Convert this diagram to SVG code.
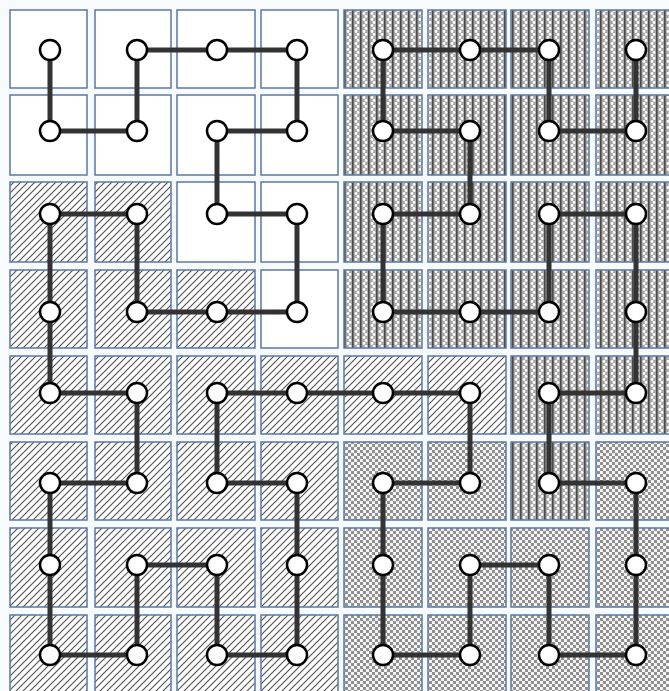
<svg xmlns="http://www.w3.org/2000/svg" width="669" height="691" viewBox="0 0 669 691">
<style>
.cell{stroke:#5a78a6;stroke-width:1.5}
.w{fill:#ffffff}
.d{fill:url(#diag)}
.c{fill:url(#check)}
.x{fill:url(#dense)}
.e{stroke:#333333;stroke-width:5;stroke-linecap:square}
.n{fill:#ffffff;stroke:#000000;stroke-width:2.5}
</style>
<defs>
<pattern id="diag" patternUnits="userSpaceOnUse" width="7" height="7">
<rect width="7" height="7" fill="#ffffff"/>
<path d="M-1,8 L8,-1 M-2,2 L2,-2 M5,9 L9,5" stroke="#505050" stroke-width="1.1"/>
</pattern>
<pattern id="check" patternUnits="userSpaceOnUse" width="6" height="6">
<rect width="6" height="6" fill="#f4f4f4"/>
<rect x="0" y="0" width="3" height="3" fill="#909090"/>
<rect x="3" y="3" width="3" height="3" fill="#909090"/>
</pattern>
<pattern id="dense" patternUnits="userSpaceOnUse" width="8" height="6">
<rect width="8" height="6" fill="#a6a6a6"/>
<rect x="0" y="0" width="1.6" height="6" fill="#4a4a4a"/>
<circle cx="4" cy="1.5" r="1.4" fill="#ffffff"/>
<circle cx="6" cy="4.5" r="1.4" fill="#ffffff"/>
</pattern>
</defs>
<rect width="669" height="691" fill="#f8fbfe"/>
<g id="cells">
<rect class="cell w" x="10" y="10" width="77" height="78"/>
<rect class="cell w" x="95" y="10" width="76" height="78"/>
<rect class="cell w" x="177" y="10" width="78" height="78"/>
<rect class="cell w" x="261" y="10" width="77" height="78"/>
<rect class="cell x" x="344" y="10" width="78" height="78"/>
<rect class="cell x" x="428" y="10" width="78" height="78"/>
<rect class="cell x" x="511" y="10" width="78" height="78"/>
<rect class="cell x" x="596" y="10" width="78" height="78"/>

<rect class="cell w" x="10" y="95" width="77" height="80"/>
<rect class="cell w" x="95" y="95" width="76" height="80"/>
<rect class="cell w" x="177" y="95" width="78" height="80"/>
<rect class="cell w" x="261" y="95" width="77" height="80"/>
<rect class="cell x" x="344" y="95" width="78" height="80"/>
<rect class="cell x" x="428" y="95" width="78" height="80"/>
<rect class="cell x" x="511" y="95" width="78" height="80"/>
<rect class="cell x" x="596" y="95" width="78" height="80"/>

<rect class="cell d" x="10" y="182" width="77" height="80"/>
<rect class="cell d" x="95" y="182" width="76" height="80"/>
<rect class="cell w" x="177" y="182" width="78" height="80"/>
<rect class="cell w" x="261" y="182" width="77" height="80"/>
<rect class="cell x" x="344" y="182" width="78" height="80"/>
<rect class="cell x" x="428" y="182" width="78" height="80"/>
<rect class="cell x" x="511" y="182" width="78" height="80"/>
<rect class="cell x" x="596" y="182" width="78" height="80"/>

<rect class="cell d" x="10" y="270" width="77" height="78"/>
<rect class="cell d" x="95" y="270" width="76" height="78"/>
<rect class="cell d" x="177" y="270" width="78" height="78"/>
<rect class="cell w" x="261" y="270" width="77" height="78"/>
<rect class="cell x" x="344" y="270" width="78" height="78"/>
<rect class="cell x" x="428" y="270" width="78" height="78"/>
<rect class="cell x" x="511" y="270" width="78" height="78"/>
<rect class="cell x" x="596" y="270" width="78" height="78"/>

<rect class="cell d" x="10" y="356" width="77" height="78"/>
<rect class="cell d" x="95" y="356" width="76" height="78"/>
<rect class="cell d" x="177" y="356" width="78" height="78"/>
<rect class="cell d" x="261" y="356" width="77" height="78"/>
<rect class="cell d" x="344" y="356" width="78" height="78"/>
<rect class="cell d" x="428" y="356" width="78" height="78"/>
<rect class="cell x" x="511" y="356" width="78" height="78"/>
<rect class="cell x" x="596" y="356" width="78" height="78"/>

<rect class="cell d" x="10" y="442" width="77" height="78"/>
<rect class="cell d" x="95" y="442" width="76" height="78"/>
<rect class="cell d" x="177" y="442" width="78" height="78"/>
<rect class="cell d" x="261" y="442" width="77" height="78"/>
<rect class="cell c" x="344" y="442" width="78" height="78"/>
<rect class="cell c" x="428" y="442" width="78" height="78"/>
<rect class="cell x" x="511" y="442" width="78" height="78"/>
<rect class="cell c" x="596" y="442" width="78" height="78"/>

<rect class="cell d" x="10" y="528" width="77" height="79"/>
<rect class="cell d" x="95" y="528" width="76" height="79"/>
<rect class="cell d" x="177" y="528" width="78" height="79"/>
<rect class="cell d" x="261" y="528" width="77" height="79"/>
<rect class="cell c" x="344" y="528" width="78" height="79"/>
<rect class="cell c" x="428" y="528" width="78" height="79"/>
<rect class="cell c" x="511" y="528" width="78" height="79"/>
<rect class="cell c" x="596" y="528" width="78" height="79"/>

<rect class="cell d" x="10" y="615" width="77" height="80"/>
<rect class="cell d" x="95" y="615" width="76" height="80"/>
<rect class="cell d" x="177" y="615" width="78" height="80"/>
<rect class="cell d" x="261" y="615" width="77" height="80"/>
<rect class="cell c" x="344" y="615" width="78" height="80"/>
<rect class="cell c" x="428" y="615" width="78" height="80"/>
<rect class="cell c" x="511" y="615" width="78" height="80"/>
<rect class="cell c" x="596" y="615" width="78" height="80"/>
</g>
<g id="connectors">
<line class="e" x1="50" y1="50" x2="50" y2="131"/>
<line class="e" x1="50" y1="131" x2="137" y2="131"/>
<line class="e" x1="137" y1="131" x2="137" y2="50"/>
<line class="e" x1="137" y1="50" x2="217" y2="50"/>
<line class="e" x1="217" y1="50" x2="297" y2="50"/>
<line class="e" x1="297" y1="50" x2="297" y2="131"/>
<line class="e" x1="297" y1="131" x2="217" y2="131"/>
<line class="e" x1="217" y1="131" x2="217" y2="214"/>
<line class="e" x1="217" y1="214" x2="297" y2="214"/>
<line class="e" x1="297" y1="214" x2="297" y2="312"/>
<line class="e" x1="297" y1="312" x2="217" y2="312"/>
<line class="e" x1="217" y1="312" x2="137" y2="312"/>
<line class="e" x1="137" y1="312" x2="137" y2="214"/>
<line class="e" x1="137" y1="214" x2="50" y2="214"/>
<line class="e" x1="50" y1="214" x2="50" y2="312"/>
<line class="e" x1="50" y1="312" x2="50" y2="393"/>
<line class="e" x1="50" y1="393" x2="137" y2="393"/>
<line class="e" x1="137" y1="393" x2="137" y2="483"/>
<line class="e" x1="137" y1="483" x2="50" y2="483"/>
<line class="e" x1="50" y1="483" x2="50" y2="565"/>
<line class="e" x1="50" y1="565" x2="50" y2="655"/>
<line class="e" x1="50" y1="655" x2="137" y2="655"/>
<line class="e" x1="137" y1="655" x2="137" y2="565"/>
<line class="e" x1="137" y1="565" x2="217" y2="565"/>
<line class="e" x1="217" y1="565" x2="217" y2="655"/>
<line class="e" x1="217" y1="655" x2="297" y2="655"/>
<line class="e" x1="297" y1="655" x2="297" y2="565"/>
<line class="e" x1="297" y1="565" x2="297" y2="483"/>
<line class="e" x1="297" y1="483" x2="217" y2="483"/>
<line class="e" x1="217" y1="483" x2="217" y2="393"/>
<line class="e" x1="217" y1="393" x2="297" y2="393"/>
<line class="e" x1="297" y1="393" x2="383" y2="393"/>
<line class="e" x1="383" y1="393" x2="470" y2="393"/>
<line class="e" x1="470" y1="393" x2="470" y2="483"/>
<line class="e" x1="470" y1="483" x2="383" y2="483"/>
<line class="e" x1="383" y1="483" x2="383" y2="565"/>
<line class="e" x1="383" y1="565" x2="383" y2="655"/>
<line class="e" x1="383" y1="655" x2="470" y2="655"/>
<line class="e" x1="470" y1="655" x2="470" y2="565"/>
<line class="e" x1="470" y1="565" x2="549" y2="565"/>
<line class="e" x1="549" y1="565" x2="549" y2="655"/>
<line class="e" x1="549" y1="655" x2="636" y2="655"/>
<line class="e" x1="636" y1="655" x2="636" y2="565"/>
<line class="e" x1="636" y1="565" x2="636" y2="483"/>
<line class="e" x1="636" y1="483" x2="549" y2="483"/>
<line class="e" x1="549" y1="483" x2="549" y2="393"/>
<line class="e" x1="549" y1="393" x2="636" y2="393"/>
<line class="e" x1="636" y1="393" x2="636" y2="312"/>
<line class="e" x1="636" y1="312" x2="636" y2="214"/>
<line class="e" x1="636" y1="214" x2="549" y2="214"/>
<line class="e" x1="549" y1="214" x2="549" y2="312"/>
<line class="e" x1="549" y1="312" x2="470" y2="312"/>
<line class="e" x1="470" y1="312" x2="383" y2="312"/>
<line class="e" x1="383" y1="312" x2="383" y2="214"/>
<line class="e" x1="383" y1="214" x2="470" y2="214"/>
<line class="e" x1="470" y1="214" x2="470" y2="131"/>
<line class="e" x1="470" y1="131" x2="383" y2="131"/>
<line class="e" x1="383" y1="131" x2="383" y2="50"/>
<line class="e" x1="383" y1="50" x2="470" y2="50"/>
<line class="e" x1="470" y1="50" x2="549" y2="50"/>
<line class="e" x1="549" y1="50" x2="549" y2="131"/>
<line class="e" x1="549" y1="131" x2="636" y2="131"/>
<line class="e" x1="636" y1="131" x2="636" y2="50"/>
</g>
<g id="nodes">
<g id="n1"><circle class="n" cx="50" cy="50" r="10"/></g>
<g id="n2"><circle class="n" cx="50" cy="131" r="10"/></g>
<g id="n3"><circle class="n" cx="137" cy="131" r="10"/></g>
<g id="n4"><circle class="n" cx="137" cy="50" r="10"/></g>
<g id="n5"><circle class="n" cx="217" cy="50" r="10"/></g>
<g id="n6"><circle class="n" cx="297" cy="50" r="10"/></g>
<g id="n7"><circle class="n" cx="297" cy="131" r="10"/></g>
<g id="n8"><circle class="n" cx="217" cy="131" r="10"/></g>
<g id="n9"><circle class="n" cx="217" cy="214" r="10"/></g>
<g id="n10"><circle class="n" cx="297" cy="214" r="10"/></g>
<g id="n11"><circle class="n" cx="297" cy="312" r="10"/></g>
<g id="n12"><circle class="n" cx="217" cy="312" r="10"/></g>
<g id="n13"><circle class="n" cx="137" cy="312" r="10"/></g>
<g id="n14"><circle class="n" cx="137" cy="214" r="10"/></g>
<g id="n15"><circle class="n" cx="50" cy="214" r="10"/></g>
<g id="n16"><circle class="n" cx="50" cy="312" r="10"/></g>
<g id="n17"><circle class="n" cx="50" cy="393" r="10"/></g>
<g id="n18"><circle class="n" cx="137" cy="393" r="10"/></g>
<g id="n19"><circle class="n" cx="137" cy="483" r="10"/></g>
<g id="n20"><circle class="n" cx="50" cy="483" r="10"/></g>
<g id="n21"><circle class="n" cx="50" cy="565" r="10"/></g>
<g id="n22"><circle class="n" cx="50" cy="655" r="10"/></g>
<g id="n23"><circle class="n" cx="137" cy="655" r="10"/></g>
<g id="n24"><circle class="n" cx="137" cy="565" r="10"/></g>
<g id="n25"><circle class="n" cx="217" cy="565" r="10"/></g>
<g id="n26"><circle class="n" cx="217" cy="655" r="10"/></g>
<g id="n27"><circle class="n" cx="297" cy="655" r="10"/></g>
<g id="n28"><circle class="n" cx="297" cy="565" r="10"/></g>
<g id="n29"><circle class="n" cx="297" cy="483" r="10"/></g>
<g id="n30"><circle class="n" cx="217" cy="483" r="10"/></g>
<g id="n31"><circle class="n" cx="217" cy="393" r="10"/></g>
<g id="n32"><circle class="n" cx="297" cy="393" r="10"/></g>
<g id="n33"><circle class="n" cx="383" cy="393" r="10"/></g>
<g id="n34"><circle class="n" cx="470" cy="393" r="10"/></g>
<g id="n35"><circle class="n" cx="470" cy="483" r="10"/></g>
<g id="n36"><circle class="n" cx="383" cy="483" r="10"/></g>
<g id="n37"><circle class="n" cx="383" cy="565" r="10"/></g>
<g id="n38"><circle class="n" cx="383" cy="655" r="10"/></g>
<g id="n39"><circle class="n" cx="470" cy="655" r="10"/></g>
<g id="n40"><circle class="n" cx="470" cy="565" r="10"/></g>
<g id="n41"><circle class="n" cx="549" cy="565" r="10"/></g>
<g id="n42"><circle class="n" cx="549" cy="655" r="10"/></g>
<g id="n43"><circle class="n" cx="636" cy="655" r="10"/></g>
<g id="n44"><circle class="n" cx="636" cy="565" r="10"/></g>
<g id="n45"><circle class="n" cx="636" cy="483" r="10"/></g>
<g id="n46"><circle class="n" cx="549" cy="483" r="10"/></g>
<g id="n47"><circle class="n" cx="549" cy="393" r="10"/></g>
<g id="n48"><circle class="n" cx="636" cy="393" r="10"/></g>
<g id="n49"><circle class="n" cx="636" cy="312" r="10"/></g>
<g id="n50"><circle class="n" cx="636" cy="214" r="10"/></g>
<g id="n51"><circle class="n" cx="549" cy="214" r="10"/></g>
<g id="n52"><circle class="n" cx="549" cy="312" r="10"/></g>
<g id="n53"><circle class="n" cx="470" cy="312" r="10"/></g>
<g id="n54"><circle class="n" cx="383" cy="312" r="10"/></g>
<g id="n55"><circle class="n" cx="383" cy="214" r="10"/></g>
<g id="n56"><circle class="n" cx="470" cy="214" r="10"/></g>
<g id="n57"><circle class="n" cx="470" cy="131" r="10"/></g>
<g id="n58"><circle class="n" cx="383" cy="131" r="10"/></g>
<g id="n59"><circle class="n" cx="383" cy="50" r="10"/></g>
<g id="n60"><circle class="n" cx="470" cy="50" r="10"/></g>
<g id="n61"><circle class="n" cx="549" cy="50" r="10"/></g>
<g id="n62"><circle class="n" cx="549" cy="131" r="10"/></g>
<g id="n63"><circle class="n" cx="636" cy="131" r="10"/></g>
<g id="n64"><circle class="n" cx="636" cy="50" r="10"/></g>
</g>
</svg>
